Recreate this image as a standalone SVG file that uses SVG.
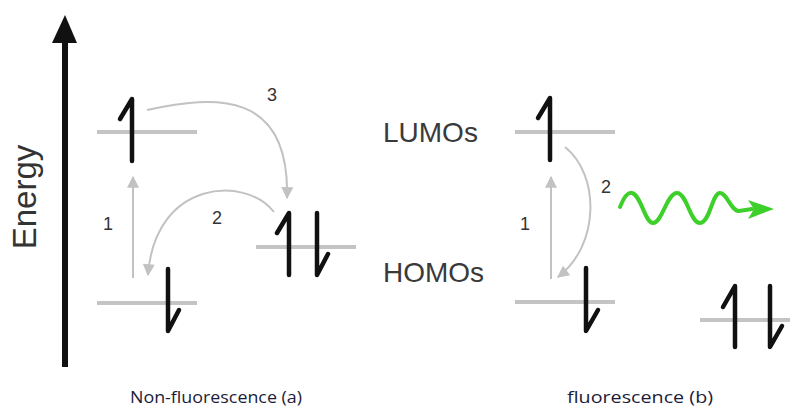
<svg xmlns="http://www.w3.org/2000/svg" width="790" height="408" viewBox="0 0 790 408">
<style>
.lvl{stroke:#c4c4c4;stroke-width:4;fill:none}
.e{stroke:#111;stroke-width:4.5;fill:none;stroke-linecap:round;stroke-linejoin:round}
.tr{stroke:#c2c2c2;stroke-width:2;fill:none}
.num{font-family:"Liberation Sans",Arial,sans-serif;font-size:18px;fill:#333}
.orb{font-family:"Liberation Sans",Arial,sans-serif;font-size:28px;fill:#3a3a3a}
.cap{font-family:"Open Sans","DejaVu Sans",sans-serif;font-size:17px;fill:#1c1c3a}
</style>
<defs>
<marker id="ga" viewBox="0 0 10 10" refX="9" refY="5" markerWidth="6.5" markerHeight="6" orient="auto" markerUnits="strokeWidth">
<path d="M0,0 L10,5 L0,10 z" fill="#c2c2c2"/>
</marker>
</defs>

<g id="energy-axis">
<line x1="65" y1="367" x2="65" y2="40" stroke="#111" stroke-width="6"/>
<path d="M52,43 L65,15 L77,43 z" fill="#111"/>
<text transform="translate(36,197) rotate(-90)" text-anchor="middle" font-family="Liberation Sans, Arial, sans-serif" font-size="33" fill="#333">Energy</text>
</g>

<g id="a-lumo">
<line class="lvl" x1="97" y1="132" x2="197" y2="132"/>
<path class="e" d="M132,161 L132,99 L120,119"/>
</g>
<g id="a-homo">
<line class="lvl" x1="97" y1="303" x2="197" y2="303"/>
<path class="e" d="M168,269 L168,331 L179,310"/>
</g>
<g id="a-acceptor">
<line class="lvl" x1="256" y1="247" x2="356" y2="247"/>
<path class="e" d="M289,275 L289,213 L277,233"/>
<path class="e" d="M317,213 L317,275 L328,254"/>
</g>

<g id="labels">
<text class="orb" x="383" y="142">LUMOs</text>
<text class="orb" x="383" y="282">HOMOs</text>
</g>

<g id="b-lumo">
<line class="lvl" x1="515" y1="132" x2="615" y2="132"/>
<path class="e" d="M550,160 L550,98 L538,118"/>
</g>
<g id="b-homo">
<line class="lvl" x1="515" y1="302" x2="615" y2="302"/>
<path class="e" d="M586,268 L586,331 L598,310"/>
</g>
<g id="b-acceptor">
<line class="lvl" x1="700" y1="320" x2="790" y2="320"/>
<path class="e" d="M735,347 L735,286 L723,307"/>
<path class="e" d="M770,286 L770,347 L782,326"/>
</g>

<g id="connectors">
<line class="tr" x1="133" y1="278" x2="133" y2="177" marker-end="url(#ga)"/>
<path class="tr" d="M274,212 C245,175 155,180 148,275" marker-end="url(#ga)"/>
<path class="tr" d="M147,110 C215,95 290,90 287,198" marker-end="url(#ga)"/>
<line class="tr" x1="551" y1="279" x2="551" y2="177" marker-end="url(#ga)"/>
<path class="tr" d="M565,147 C600,175 600,245 558,277" marker-end="url(#ga)"/>
<path d="M620,207 C624,197 628,192 632,193 C641,195 645,223 653,223 C662,223 667,193 677,193 C687,193 690,223 700,223 C710,223 712,193 720,193 C727,193 731,211 739,211 L752,209" stroke="#3ed02a" stroke-width="4" fill="none" stroke-linecap="round"/>
<path d="M748,200 L774,209 L748,219 L754,209 z" fill="#3ed02a"/>
</g>

<g id="numbers">
<text class="num" x="108" y="230" text-anchor="middle">1</text>
<text class="num" x="217" y="224" text-anchor="middle">2</text>
<text class="num" x="272" y="101" text-anchor="middle">3</text>
<text class="num" x="525" y="230" text-anchor="middle">1</text>
<text class="num" x="606" y="193" text-anchor="middle">2</text>
</g>

<g id="captions">
<text class="cap" x="130" y="403" textLength="172" lengthAdjust="spacingAndGlyphs">Non-fluorescence (a)</text>
<text class="cap" x="567" y="403" textLength="146" lengthAdjust="spacingAndGlyphs">fluorescence (b)</text>
</g>
</svg>
